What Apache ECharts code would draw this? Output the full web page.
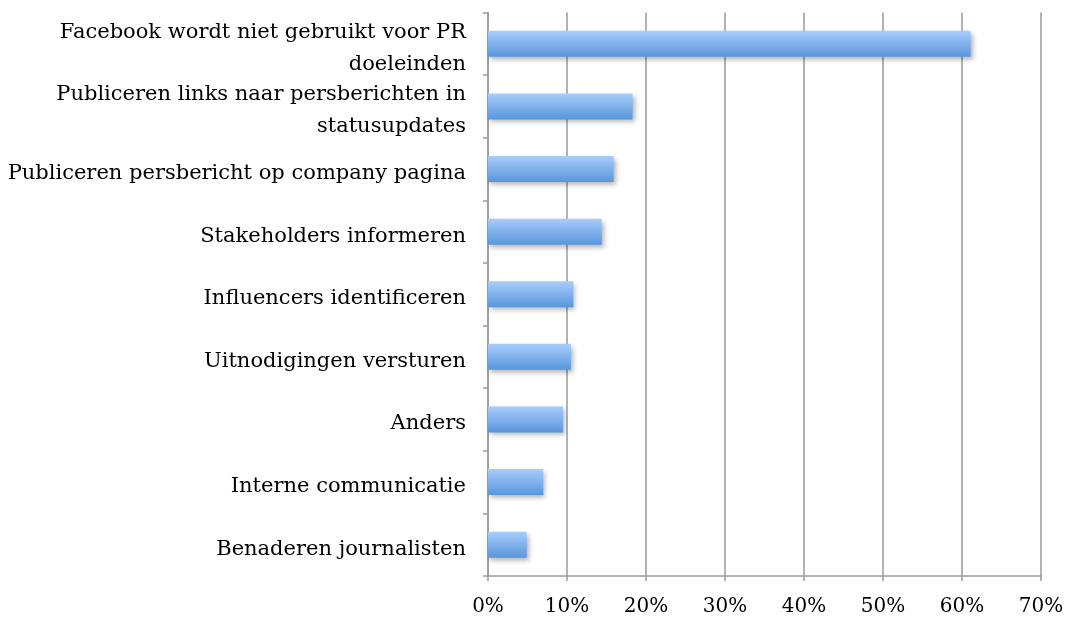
<!DOCTYPE html>
<html><head><meta charset="utf-8">
<script src="https://cdn.jsdelivr.net/npm/echarts@6/dist/echarts.min.js"></script>
<style>html,body{margin:0;padding:0;background:#fff}#c{width:1067px;height:623px}</style>
</head><body><div id="c"></div>
<script>
const categories = [
  "Benaderen journalisten",
  "Interne communicatie",
  "Anders",
  "Uitnodigingen versturen",
  "Influencers identificeren",
  "Stakeholders informeren",
  "Publiceren persbericht op company pagina",
  "Publiceren links naar persberichten in\nstatusupdates",
  "Facebook wordt niet gebruikt voor PR\ndoeleinden"
];
const values = [4.9, 7.0, 9.5, 10.5, 10.8, 14.4, 15.9, 18.3, 61.1];
const xTicks = [0, 10, 20, 30, 40, 50, 60, 70];

const font = "DejaVu Serif";
const chart = echarts.init(document.getElementById('c'));
chart.setOption({
  animation: false,
  grid: {left: 488, right: 26, top: 12.5, bottom: 47, containLabel: false},
  xAxis: {
    type: 'value', min: xTicks[0], max: xTicks[xTicks.length-1], interval: 10,
    axisLine: {show: true, lineStyle: {color: '#9a9a9a', width: 1.5}},
    axisTick: {show: true, length: 5, lineStyle: {color: '#9a9a9a', width: 1.5}},
    splitLine: {show: true, lineStyle: {color: '#9a9a9a', width: 1.5}},
    axisLabel: {formatter: v => v + '%', color: '#000', fontFamily: font, fontSize: 20, margin: 21}
  },
  yAxis: {
    type: 'category', data: categories,
    axisLine: {show: true, lineStyle: {color: '#9a9a9a', width: 1.5}},
    axisTick: {show: true, length: 5, lineStyle: {color: '#9a9a9a', width: 1.5}},
    axisLabel: {
      interval: 0, hideOverlap: false, color: '#000', fontFamily: font, fontSize: 21, margin: 22, align: 'right',
      formatter: v => v.split('\n').map(s => '{a|' + s + '}').join('\n'),
      rich: {a: {fontFamily: font, fontSize: 21, color: '#000', lineHeight: 32, padding: [9, 0, 0, 0]}}
    }
  },
  series: [{
    type: 'bar', data: values, barWidth: 26,
    itemStyle: {
      color: new echarts.graphic.LinearGradient(0, 0, 0, 1, [
        {offset: 0, color: '#a9cdfb'},
        {offset: 1, color: '#5896dc'}
      ]),
      shadowColor: 'rgba(0,0,0,0.3)', shadowBlur: 5, shadowOffsetX: 2, shadowOffsetY: 3
    }
  }]
});
</script></body></html>
